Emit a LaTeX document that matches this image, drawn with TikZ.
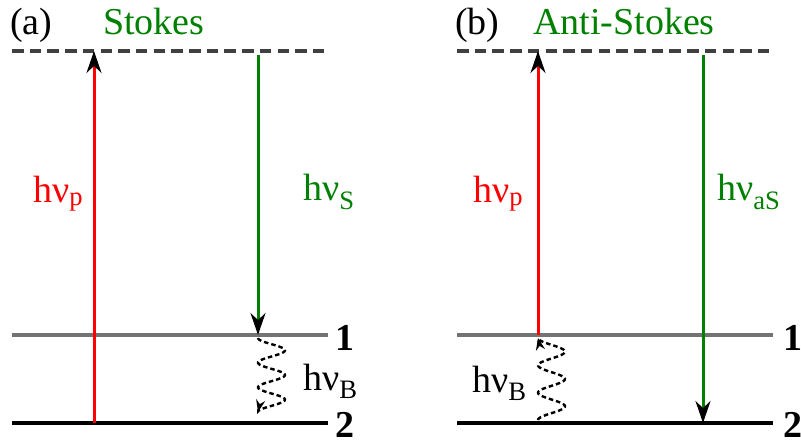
\documentclass[tikz,border=0pt]{standalone}
\usepackage{fontspec}
\setmainfont{LiberationSerif}[Extension=.ttf, UprightFont=*-Regular, BoldFont=*-Bold, ItalicFont=*-Italic, BoldItalicFont=*-BoldItalic]
\usetikzlibrary{arrows.meta}

\begin{document}
\begin{tikzpicture}[x=1pt, y=-1pt,
        virtual/.style={draw=black!75, line width=4.5pt, dash pattern=on 11.5pt off 6.2pt},
        upper/.style={draw=black!55, line width=4.2pt},
        ground/.style={draw=black, line width=4.2pt},
        pump/.style={draw=red, line width=3pt, -{Stealth[black, length=22pt, width=15pt]}},
        emit/.style={draw=green!50!black, line width=3pt, -{Stealth[black, length=22pt, width=15pt]}},
        phonon/.style={draw=black, line width=2.4pt, dash pattern=on 4.5pt off 3pt, -{Stealth[black, length=12pt, width=9pt]}},
        lbl/.style={anchor=base west, inner sep=0pt, font=\fontsize{38}{40}\selectfont},
        lvl/.style={anchor=center, inner sep=0pt, font=\fontsize{38}{40}\selectfont\bfseries}
    ]
        \useasboundingbox (0,0) rectangle (801,444);

        % (a) Stokes
        \node[lbl] (taga) at (10,35) {(a)};
        \node[lbl, text=green!50!black] (stokes) at (103,35) {Stokes};
        \draw[virtual] (12,51) -- (330,51);
        \draw[upper] (12,335) -- (328,335);
        \draw[ground] (12,423) -- (328,423);
        \node[lvl] (ona) at (345,338) {1};
        \node[lvl] (twa) at (345,425) {2};

        \coordinate (pa0) at (94,423);
        \coordinate (pa1) at (94,51);
        \coordinate (sa0) at (258,55);
        \coordinate (sa1) at (258,335);
        \draw[pump] (pa0) -- (pa1);
        \draw[emit] (sa0) -- (sa1);
        \draw[phonon] plot[smooth, samples=90, domain=0:1080] ({258+13.5*(1-cos(\x))}, {338+\x/1080*74});

        \node[lbl, text=red] (hpa) at (33,202) {hν\textsubscript{p}};
        \node[lbl, text=green!50!black] (hsa) at (303,200) {hν\textsubscript{S}};
        \node[lbl] (hba) at (303,390) {hν\textsubscript{B}};

        % (b) Anti-Stokes
        \node[lbl] (tagb) at (455,35) {(b)};
        \node[lbl, text=green!50!black] (antistokes) at (533,35) {Anti-Stokes};
        \draw[virtual] (457,51) -- (775,51);
        \draw[upper] (457,335) -- (773,335);
        \draw[ground] (457,423) -- (773,423);
        \node[lvl] (onb) at (793,338) {1};
        \node[lvl] (twb) at (793,425) {2};

        \coordinate (pb0) at (538,335);
        \coordinate (pb1) at (538,51);
        \coordinate (sb0) at (703,55);
        \coordinate (sb1) at (703,423);
        \draw[pump] (pb0) -- (pb1);
        \draw[emit] (sb0) -- (sb1);
        \draw[phonon] plot[smooth, samples=90, domain=0:1080] ({538+13.5*(1-cos(\x))}, {420-\x/1080*82});

        \node[lbl, text=red] (hpb) at (473,202) {hν\textsubscript{p}};
        \node[lbl, text=green!50!black] (hsb) at (717,200) {hν\textsubscript{aS}};
        \node[lbl] (hbb) at (472,392) {hν\textsubscript{B}};
    \end{tikzpicture}
\end{document}
